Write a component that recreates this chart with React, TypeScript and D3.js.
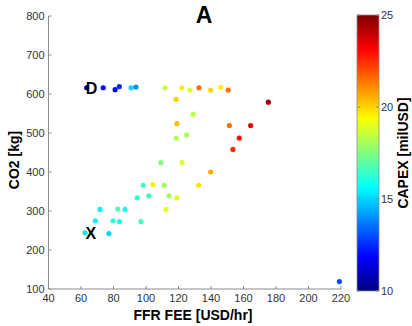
import React from "react";
import * as d3 from "d3";

// FFR fee [USD/hr], CO2 [kg], CAPEX [milUSD]
const ffrFee = [63.5, 73.7, 81, 83.6, 90.8, 93.8, 111.7, 122, 127, 132.6, 139.8, 146, 150.6, 175.3, 118.5, 129, 119, 151.3, 164.4, 118.6, 125, 157.4, 153.5, 109.2, 122.2, 139.8, 98.3, 104.3, 111.3, 132.4, 94.6, 101.8, 114.2, 119, 112.3, 71.7, 82.6, 87.1, 68.8, 79.7, 83.6, 96.9, 62.5, 77.2, 219];
const co2 = [616, 616, 611, 619, 616, 618, 616, 616, 610, 616, 610, 617, 610, 579, 586, 548, 524, 519, 519, 487, 495, 487, 458, 424, 424, 400, 366, 368, 366, 366, 334, 339, 339, 334, 304, 304, 305, 304, 275, 275, 273, 273, 244, 242, 119];
const capex = [10.8, 12, 12, 12.5, 15, 14, 18.5, 19.6, 18.8, 21.5, 20, 19.6, 21.5, 24.5, 20, 18.5, 20.3, 21.5, 23.5, 18.3, 18, 23, 22.5, 17.5, 18.8, 20.6, 16.5, 19.6, 18, 19.8, 16.3, 16.5, 18, 19, 19, 15.5, 16.8, 16, 15.5, 16.3, 16, 16.5, 15.3, 15, 13];

const xTicks = [40, 60, 80, 100, 120, 140, 160, 180, 200, 220];
const yTicks = [100, 200, 300, 400, 500, 600, 700, 800];
const cTicks = [10, 15, 20, 25];

const labels = [
  { text: "D", fee: 66.5, co2: 616 },
  { text: "X", fee: 66, co2: 244 },
];

// MATLAB style jet colormap
function jet(t: number) {
  const f = (v: number) => Math.round(255 * Math.max(0, Math.min(1, v)));
  const r = f(1.5 - Math.abs(4 * t - 3));
  const g = f(1.5 - Math.abs(4 * t - 2));
  const b = f(1.5 - Math.abs(4 * t - 1));
  return `rgb(${r},${g},${b})`;
}

export default function App() {
  const x = d3.scaleLinear().domain([40, 220]).range([48.5, 341]);
  const y = d3.scaleLinear().domain([100, 800]).range([289, 16]);
  const color = d3.scaleSequential(jet).domain([10, 25]);
  const cb = d3.scaleLinear().domain([10, 25]).range([291, 15]);
  const cbX = 357, cbW = 22;
  const axisColor = "#8c8c8c";
  const tickText = "#333";
  const font = "Arial, 'Liberation Sans', sans-serif";

  const stops = d3.range(0, 1.0001, 0.02);

  return (
    <svg width={412} height={326} style={{ position: "absolute", left: 0, top: 0, background: "#fff" }} fontFamily={font}>
      <defs>
        <linearGradient id="jetGrad" x1="0" y1="1" x2="0" y2="0">
          {stops.map((s, i) => (
            <stop key={i} offset={s} stopColor={jet(s)} />
          ))}
        </linearGradient>
      </defs>

      {/* title */}
      <text x={204} y={23} textAnchor="middle" fontSize={23} fontWeight="bold">A</text>

      {/* axes */}
      <line x1={x(40)} x2={x(220)} y1={y(100)} y2={y(100)} stroke={axisColor} />
      <line x1={x(40)} x2={x(40)} y1={y(100)} y2={y(800)} stroke={axisColor} />
      {xTicks.map((t) => (
        <g key={"x" + t}>
          <line x1={x(t)} x2={x(t)} y1={y(100)} y2={y(100) - 3} stroke={axisColor} />
          <text x={x(t)} y={y(100) + 13} textAnchor="middle" fontSize={11} fill={tickText}>{t}</text>
        </g>
      ))}
      {yTicks.map((t) => (
        <g key={"y" + t}>
          <line x1={x(40)} x2={x(40) + 3} y1={y(t)} y2={y(t)} stroke={axisColor} />
          <text x={x(40) - 4} y={y(t) + 4} textAnchor="end" fontSize={11} fill={tickText}>{t}</text>
        </g>
      ))}

      <text x={193} y={320} textAnchor="middle" fontSize={14} fontWeight="bold">FFR FEE [USD/hr]</text>
      <text transform="translate(19,160) rotate(-90)" textAnchor="middle" fontSize={14} fontWeight="bold">CO2 [kg]</text>

      {/* points */}
      {ffrFee.map((f, i) => (
        <circle key={i} cx={x(f)} cy={y(co2[i])} r={2.6} fill={color(capex[i])} />
      ))}

      {labels.map((l) => (
        <text key={l.text} x={x(l.fee)} y={y(l.co2) + 6} textAnchor="middle" fontSize={16} fontWeight="bold">{l.text}</text>
      ))}

      {/* colorbar */}
      <rect x={cbX} y={cb(25)} width={cbW} height={cb(10) - cb(25)} fill="url(#jetGrad)" stroke={axisColor} strokeWidth={0.8} />
      {cTicks.map((t) => (
        <g key={"c" + t}>
          <line x1={cbX} x2={cbX + 3} y1={cb(t)} y2={cb(t)} stroke={axisColor} />
          <line x1={cbX + cbW - 3} x2={cbX + cbW} y1={cb(t)} y2={cb(t)} stroke={axisColor} />
          <text x={cbX + cbW + 2} y={cb(t) + 4} fontSize={11} fill={tickText}>{t}</text>
        </g>
      ))}
      <text transform="translate(408,153) rotate(-90)" textAnchor="middle" fontSize={14} fontWeight="bold">CAPEX [milUSD]</text>
    </svg>
  );
}
